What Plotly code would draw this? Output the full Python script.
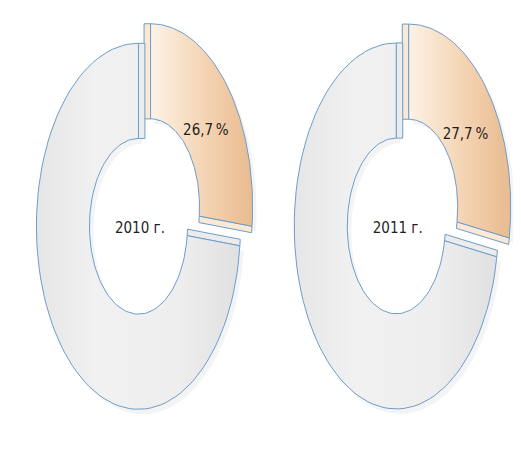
import numpy as np
import plotly.graph_objects as go

# data
years = ["2010 г.", "2011 г."]
shares = [26.7, 27.7]          # highlighted share, %
rest = [100 - s for s in shares]

# layout constants (page pixels, y grows downward)
centers_x = [144.5, 402.5]
center_y = 216.5
rx, ry = 102, 183
hole = 0.48
pull = 0.08
depth = 6.5
body_margin = 8   # default page margin of the html body
line_col = "#6c9dcb"
font_fam = "DejaVu Sans Condensed, Liberation Sans Narrow, Arial Narrow, Liberation Sans, Arial"


def pt(cx, cy, a, k=1.0):
    t = np.radians(a)
    return cx + k * rx * np.sin(t), cy - k * ry * np.cos(t)


def slice_xy(cx, cy, a0, a1, n=90):
    t = np.linspace(a0, a1, n)
    xo, yo = pt(cx, cy, t)
    xi, yi = pt(cx, cy, t[::-1], hole)
    return np.concatenate([xo, xi, xo[:1]]), np.concatenate([yo, yi, yo[:1]])


def cut_face(cx, cy, a, sign):
    # side wall of a cut, pushed along the tangent away from the slice
    t = np.radians(a)
    tx, ty = rx * np.cos(t), ry * np.sin(t)
    n = np.hypot(tx, ty)
    vx, vy = sign * depth * tx / n, sign * depth * ty / n
    xo, yo = pt(cx, cy, a)
    xi, yi = pt(cx, cy, a, hole)
    return [xo, xi, xi + vx, xo + vx, xo], [yo, yi, yi + vy, yo + vy, yo]


def offset(angle_mid):
    t = np.radians(angle_mid)
    return pull * rx * np.sin(t), -pull * ry * np.cos(t)


fig = go.Figure()

for cx, yr, s, r in zip(centers_x, years, shares, rest):
    a_s = s / 100 * 360
    parts = [
        (0, a_s, "#fbe8d5", dict(type="horizontal", colorscale=[[0, "#fdf2e6"], [0.55, "#f4d3b2"], [1, "#e9bb8f"]])),
        (a_s, 360, "#ececec", dict(type="horizontal", colorscale=[[0, "#e6e6e6"], [0.3, "#f1f1f1"], [0.7, "#eeeeee"], [1, "#e0e0e0"]])),
    ]
    for a0, a1, side, grad in parts:
        dx, dy = offset((a0 + a1) / 2)
        ccx, ccy = cx + dx, center_y + dy
        # soft shadow
        x, y = slice_xy(ccx + 4, ccy + 5, a0, a1)
        fig.add_scatter(x=x, y=y, mode="lines", fill="toself", fillcolor="rgba(0,0,0,0.045)",
                        line=dict(width=0), hoverinfo="skip", showlegend=False)
        # cut walls
        for a, sg in ((a0, -1), (a1, 1)):
            x, y = cut_face(ccx, ccy, a, sg)
            fig.add_scatter(x=x, y=y, mode="lines", fill="toself", fillcolor=side,
                            line=dict(color=line_col, width=1), hoverinfo="skip", showlegend=False)
        x, y = slice_xy(ccx, ccy, a0, a1)
        fig.add_scatter(x=x, y=y, mode="lines", fill="toself", fillgradient=grad,
                        line=dict(color=line_col, width=1), hoverinfo="skip", showlegend=False)

    # labels
    dx, dy = offset(a_s / 2)
    t = np.radians(a_s * 0.55)
    lx = cx + dx + 0.68 * rx * np.sin(t)
    ly = center_y + dy - 0.68 * ry * np.cos(t)
    fig.add_scatter(x=[lx], y=[ly], mode="text", text=[f"{s:.1f}".replace(".", ",") + "\u2009%"],
                    textfont=dict(family=font_fam, size=15, color="#1f1f1f"),
                    hoverinfo="skip", showlegend=False)
    dx, dy = offset((a_s + 360) / 2)
    fig.add_scatter(x=[cx + dx + 1.5], y=[center_y + dy + 3], mode="text", text=[yr],
                    textfont=dict(family=font_fam, size=15, color="#1f1f1f"),
                    hoverinfo="skip", showlegend=False)

W, H = 521, 470
fig.update_xaxes(range=[body_margin, W], visible=False, fixedrange=True)
fig.update_yaxes(range=[H, body_margin], visible=False, fixedrange=True)
fig.update_layout(width=W - body_margin, height=H - body_margin, margin=dict(l=0, r=0, t=0, b=0),
                  paper_bgcolor="white", plot_bgcolor="white")
fig.write_html("out.html")
